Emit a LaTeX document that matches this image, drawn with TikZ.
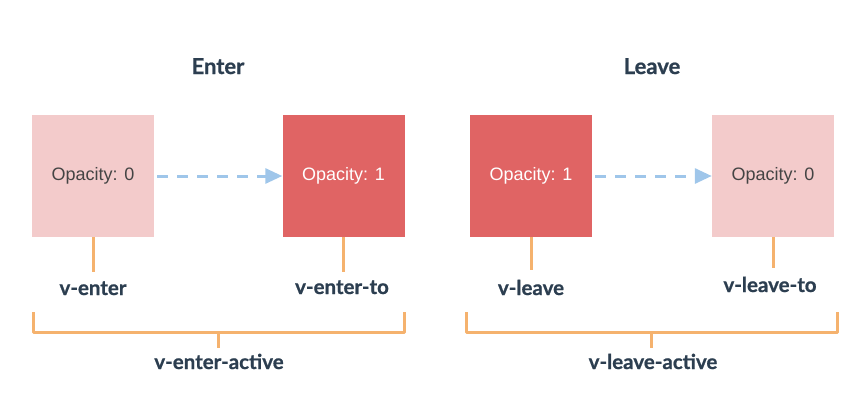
\documentclass[tikz,border=0pt]{standalone}
\usepackage{fontspec}
\setmainfont{Liberation Sans}
\newfontfamily\labelfont[BoldFeatures={FakeBold=0.8}]{Lato}
\usetikzlibrary{arrows.meta}
\definecolor{lightpink}{HTML}{F3CBCB}
\definecolor{darkred}{HTML}{E06464}
\definecolor{orangeln}{HTML}{F5B26E}
\definecolor{bluearr}{HTML}{9FC6EA}
\definecolor{darktext}{HTML}{2C3E50}
\definecolor{graytext}{HTML}{444444}
\begin{document}
\begin{tikzpicture}[x=1pt,y=-1pt,
  box/.style={minimum width=122pt,minimum height=122pt,inner sep=0pt,font=\fontsize{18}{20}\selectfont},
  lightbox/.style={box,fill=lightpink,text=graytext},
  darkbox/.style={box,fill=darkred,text=white},
  title/.style={font=\labelfont\bfseries\fontsize{22}{24}\selectfont,text=darktext,anchor=base,inner sep=0pt},
  lbl/.style={font=\labelfont\bfseries\fontsize{20.5}{22}\selectfont,text=darktext,anchor=base,inner sep=0pt},
  oline/.style={draw=orangeln,line width=3pt},
  flow/.style={draw=bluearr,line width=3pt,dash pattern=on 11pt off 9pt,-{Triangle[length=17pt,width=15pt,fill=bluearr]}}
]
\useasboundingbox (0,0) rectangle (868,408);
% titles
\node[title] (tenter) at (218,74) {Enter};
\node[title] (tleave) at (652,74) {Leave};
% boxes
\node[lightbox] (b1) at (93,176) {Opacity: 0};
\node[darkbox]  (b2) at (343.5,176) {Opacity: 1};
\node[darkbox]  (b3) at (531,176) {Opacity: 1};
\node[lightbox] (b4) at (773,176) {Opacity: 0};
% arrows
\draw[flow] ([xshift=3pt]b1.east) -- (b2.west);
\draw[flow] ([xshift=3pt]b3.east) -- (b4.west);
% label coordinates
\coordinate (c1) at (93,272);
\coordinate (c2) at (343.5,272);
\coordinate (c3) at (531,270);
\coordinate (c4) at (773,268);
\draw[oline] (b1.south) -- (c1);
\draw[oline] (b2.south) -- (c2);
\draw[oline] (b3.south) -- (c3);
\draw[oline] (b4.south) -- (c4);
\node[lbl] (l1) at (93,295) {v-enter};
\node[lbl] (l2) at (342,294) {v-enter-to};
\node[lbl] (l3) at (531,295) {v-leave};
\node[lbl] (l4) at (770,292) {v-leave-to};
% brackets
\coordinate (ea) at (33,312);
\coordinate (eb) at (404,312);
\coordinate (la) at (466,312);
\coordinate (lb) at (837,312);
\draw[oline,line join=round] (ea) -- ++(0,20) -| (eb);
\draw[oline,line join=round] (la) -- ++(0,20) -| (lb);
\coordinate (et) at (218.5,332);
\coordinate (ets) at (218.5,348);
\coordinate (lt) at (651.5,332);
\coordinate (lts) at (651.5,348);
\draw[oline] (et) -- (ets);
\draw[oline] (lt) -- (lts);
\node[lbl] (ae) at (219,369) {v-enter-active};
\node[lbl] (al) at (653,369) {v-leave-active};
\end{tikzpicture}
\end{document}
